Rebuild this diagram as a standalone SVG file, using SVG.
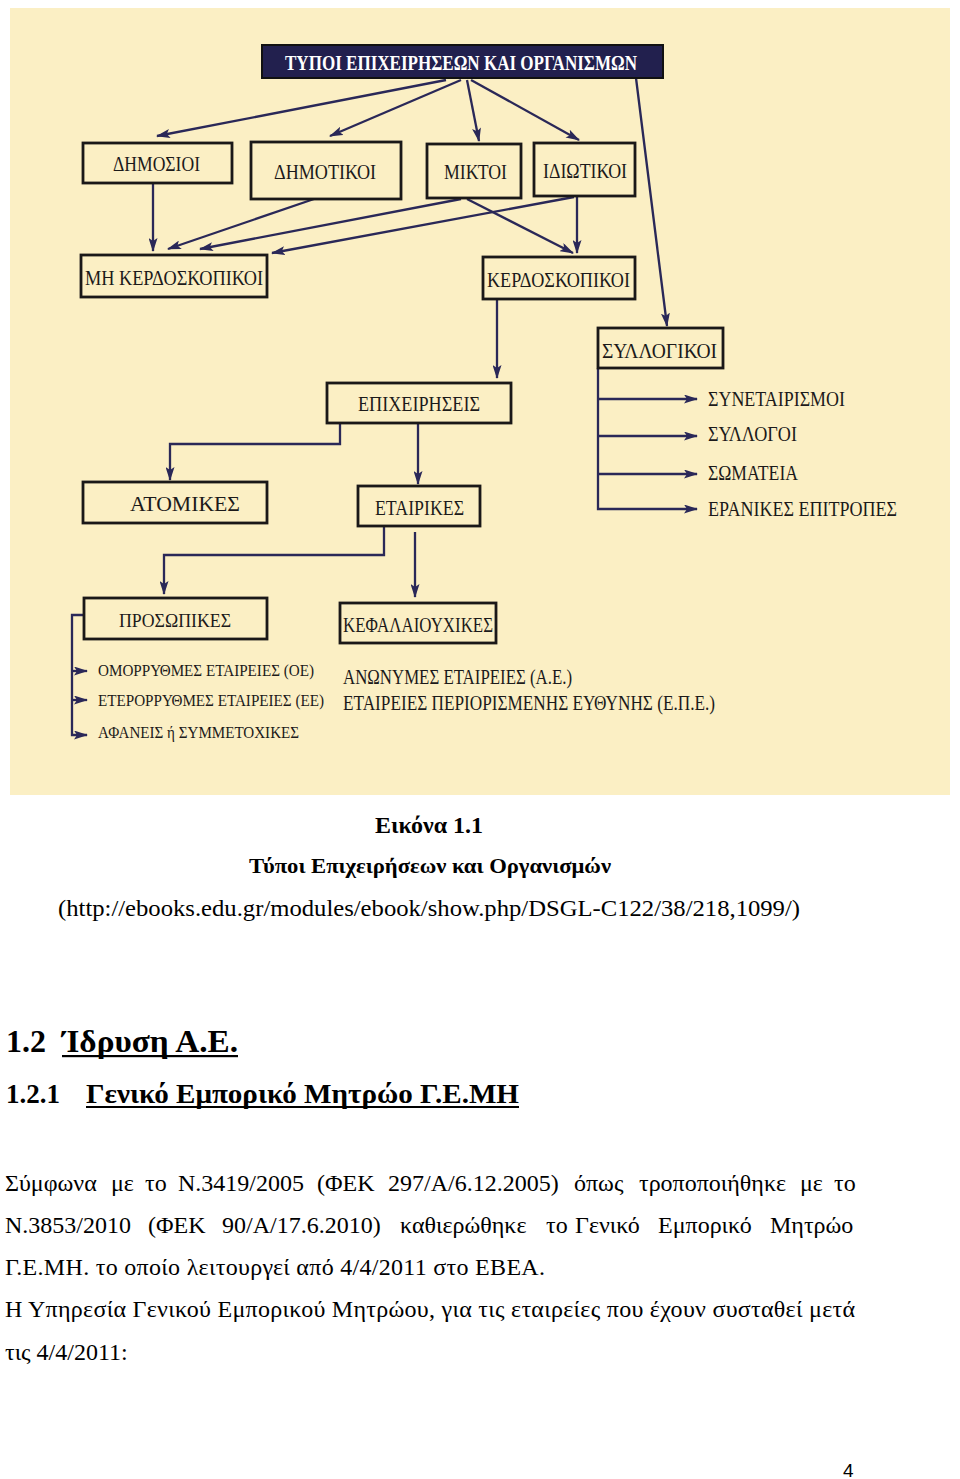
<svg xmlns="http://www.w3.org/2000/svg" width="960" height="1479" viewBox="0 0 960 1479">
<style>
.box{fill:#fbefc4;stroke:#1a1818;stroke-width:2.8}
.lbl{font-family:"Liberation Serif","Times New Roman",serif;fill:#1c1a1a}
.con{fill:none;stroke:#2a2858;stroke-width:2.3}
.arr{marker-end:url(#ah)}
.body{font-family:"Liberation Serif","Times New Roman",serif;fill:#000;font-size:24px}
.bold{font-weight:bold}
</style>
<defs>
<marker id="ah" viewBox="0 0 14 9" refX="13" refY="4.5" markerWidth="14" markerHeight="9" markerUnits="userSpaceOnUse" orient="auto">
<path d="M0,0 L14,4.5 L0,9 L3,4.5 z" fill="#2a2858"/>
</marker>
</defs>
<rect x="0" y="0" width="960" height="1479" fill="#ffffff"/>
<rect x="10" y="8" width="940" height="787" fill="#fbefc4"/>

<g id="connectors">
<line class="con arr" x1="446" y1="80" x2="157" y2="136"/>
<line class="con arr" x1="461" y1="80" x2="330" y2="136"/>
<line class="con arr" x1="467" y1="80" x2="479" y2="141"/>
<line class="con arr" x1="471" y1="80" x2="579" y2="140"/>
<line class="con arr" x1="636" y1="78" x2="667" y2="326"/>
<line class="con arr" x1="153" y1="183" x2="153" y2="251"/>
<line class="con arr" x1="314" y1="199" x2="168" y2="249"/>
<line class="con arr" x1="461" y1="199" x2="200" y2="249"/>
<line class="con arr" x1="574" y1="197" x2="272" y2="253"/>
<line class="con arr" x1="467" y1="199" x2="573" y2="253"/>
<line class="con arr" x1="577" y1="197" x2="577" y2="253"/>
<line class="con arr" x1="497" y1="300" x2="497" y2="378"/>
<polyline class="con arr" points="340,423 340,444 170,444 170,480"/>
<line class="con arr" x1="418" y1="423" x2="418" y2="484"/>
<polyline class="con arr" points="384,526 384,555 164,555 164,594"/>
<line class="con arr" x1="415" y1="532" x2="415" y2="597"/>
<line class="con arr" x1="597" y1="399" x2="697" y2="399"/>
<line class="con arr" x1="597" y1="436" x2="697" y2="436"/>
<line class="con arr" x1="597" y1="474" x2="697" y2="474"/>
<polyline class="con arr" points="598,368 598,509 697,509"/>
<polyline class="con arr" points="84,615 72,615 72,735 87,735"/>
<line class="con arr" x1="72" y1="671" x2="87" y2="671"/>
<line class="con arr" x1="72" y1="700" x2="87" y2="700"/>
</g>

<g id="title">
<rect x="262" y="45" width="401" height="33" fill="#22204e" stroke="#111" stroke-width="2"/>
<text x="285" y="70" font-family="Liberation Serif, Times New Roman, serif" font-weight="bold" font-size="21" fill="#ffffff" textLength="352" lengthAdjust="spacingAndGlyphs">ΤΥΠΟΙ ΕΠΙΧΕΙΡΗΣΕΩΝ ΚΑΙ ΟΡΓΑΝΙΣΜΩΝ</text>
</g>
<g id="dimosioi">
<rect class="box" x="83" y="143" width="149" height="40"/>
<text class="lbl" x="113" y="171" font-size="20" textLength="87" lengthAdjust="spacingAndGlyphs">ΔΗΜΟΣΙΟΙ</text>
</g>
<g id="dimotikoi">
<rect class="box" x="251" y="142" width="150" height="57"/>
<text class="lbl" x="274" y="179" font-size="20" textLength="102" lengthAdjust="spacingAndGlyphs">ΔΗΜΟΤΙΚΟΙ</text>
</g>
<g id="miktoi">
<rect class="box" x="427" y="144" width="94" height="54"/>
<text class="lbl" x="444" y="179" font-size="20" textLength="63" lengthAdjust="spacingAndGlyphs">ΜΙΚΤΟΙ</text>
</g>
<g id="idiotikoi">
<rect class="box" x="534" y="143" width="101" height="53"/>
<text class="lbl" x="543" y="178" font-size="20" textLength="84" lengthAdjust="spacingAndGlyphs">ΙΔΙΩΤΙΚΟΙ</text>
</g>
<g id="mi-kerdoskopikoi">
<rect class="box" x="81" y="255" width="186" height="42"/>
<text class="lbl" x="85" y="285" font-size="22" textLength="178" lengthAdjust="spacingAndGlyphs">ΜΗ ΚΕΡΔΟΣΚΟΠΙΚΟΙ</text>
</g>
<g id="kerdoskopikoi">
<rect class="box" x="483" y="257" width="152" height="42"/>
<text class="lbl" x="487" y="287" font-size="22" textLength="143" lengthAdjust="spacingAndGlyphs">ΚΕΡΔΟΣΚΟΠΙΚΟΙ</text>
</g>
<g id="syllogikoi">
<rect class="box" x="598" y="328" width="125" height="40"/>
<text class="lbl" x="602" y="358" font-size="22" textLength="115" lengthAdjust="spacingAndGlyphs">ΣΥΛΛΟΓΙΚΟΙ</text>
</g>
<g id="syllogikoi-items">
<text class="lbl" x="708" y="406" font-size="20" textLength="137" lengthAdjust="spacingAndGlyphs">ΣΥΝΕΤΑΙΡΙΣΜΟΙ</text>
<text class="lbl" x="708" y="441" font-size="20" textLength="89" lengthAdjust="spacingAndGlyphs">ΣΥΛΛΟΓΟΙ</text>
<text class="lbl" x="708" y="480" font-size="20" textLength="90" lengthAdjust="spacingAndGlyphs">ΣΩΜΑΤΕΙΑ</text>
<text class="lbl" x="708" y="516" font-size="20" textLength="189" lengthAdjust="spacingAndGlyphs">ΕΡΑΝΙΚΕΣ ΕΠΙΤΡΟΠΕΣ</text>
</g>
<g id="epixeiriseis">
<rect class="box" x="327" y="383" width="184" height="40"/>
<text class="lbl" x="358" y="411" font-size="20" textLength="122" lengthAdjust="spacingAndGlyphs">ΕΠΙΧΕΙΡΗΣΕΙΣ</text>
</g>
<g id="atomikes">
<rect class="box" x="83" y="482" width="184" height="41"/>
<text class="lbl" x="130" y="511" font-size="20" textLength="110" lengthAdjust="spacingAndGlyphs">ΑΤΟΜΙΚΕΣ</text>
</g>
<g id="etairikes">
<rect class="box" x="358" y="486" width="122" height="40"/>
<text class="lbl" x="375" y="515" font-size="21" textLength="89" lengthAdjust="spacingAndGlyphs">ΕΤΑΙΡΙΚΕΣ</text>
</g>
<g id="prosopikes">
<rect class="box" x="84" y="598" width="183" height="41"/>
<text class="lbl" x="119" y="627" font-size="19" textLength="112" lengthAdjust="spacingAndGlyphs">ΠΡΟΣΩΠΙΚΕΣ</text>
</g>
<g id="prosopikes-items">
<text class="lbl" x="98" y="676" font-size="17" textLength="216" lengthAdjust="spacingAndGlyphs">ΟΜΟΡΡΥΘΜΕΣ ΕΤΑΙΡΕΙΕΣ (ΟΕ)</text>
<text class="lbl" x="98" y="706" font-size="17" textLength="226" lengthAdjust="spacingAndGlyphs">ΕΤΕΡΟΡΡΥΘΜΕΣ ΕΤΑΙΡΕΙΕΣ (ΕΕ)</text>
<text class="lbl" x="98" y="738" font-size="17" textLength="201" lengthAdjust="spacingAndGlyphs">ΑΦΑΝΕΙΣ ή ΣΥΜΜΕΤΟΧΙΚΕΣ</text>
</g>
<g id="kefalaiouxikes">
<rect class="box" x="340" y="603" width="156" height="40"/>
<text class="lbl" x="343" y="632" font-size="21" textLength="150" lengthAdjust="spacingAndGlyphs">ΚΕΦΑΛΑΙΟΥΧΙΚΕΣ</text>
</g>
<g id="kefalaiouxikes-items">
<text class="lbl" x="343" y="684" font-size="20" textLength="229" lengthAdjust="spacingAndGlyphs">ΑΝΩΝΥΜΕΣ ΕΤΑΙΡΕΙΕΣ (Α.Ε.)</text>
<text class="lbl" x="343" y="710" font-size="20" textLength="372" lengthAdjust="spacingAndGlyphs">ΕΤΑΙΡΕΙΕΣ ΠΕΡΙΟΡΙΣΜΕΝΗΣ ΕΥΘΥΝΗΣ (Ε.Π.Ε.)</text>
</g>

<g id="caption">
<text class="body bold" x="375" y="833" textLength="108" lengthAdjust="spacingAndGlyphs">Εικόνα 1.1</text>
<text class="body bold" x="249" y="873" style="font-size:20px" textLength="362" lengthAdjust="spacingAndGlyphs">Τύποι Επιχειρήσεων και Οργανισμών</text>
<text class="body" x="58" y="916" textLength="742" lengthAdjust="spacingAndGlyphs">(http://ebooks.edu.gr/modules/ebook/show.php/DSGL-C122/38/218,1099/)</text>
</g>

<g id="headings">
<text class="body bold" x="6" y="1052" style="font-size:32px">1.2</text>
<text class="body bold" x="62" y="1052" style="font-size:32px" textLength="176" lengthAdjust="spacingAndGlyphs">Ίδρυση Α.Ε.</text>
<rect x="62" y="1055" width="176" height="2.2" fill="#000"/>
<text class="body bold" x="6" y="1103" style="font-size:27px">1.2.1</text>
<text class="body bold" x="86" y="1103" style="font-size:27px" textLength="433" lengthAdjust="spacingAndGlyphs">Γενικό Εμπορικό Μητρώο Γ.Ε.ΜΗ</text>
<rect x="86" y="1106" width="433" height="2" fill="#000"/>
</g>

<g id="paragraph">
<text class="body" y="1191"><tspan x="5">Σύμφωνα</tspan><tspan x="111">με</tspan><tspan x="145">το</tspan><tspan x="178">Ν.3419/2005</tspan><tspan x="317">(ΦΕΚ</tspan><tspan x="388">297/Α/6.12.2005)</tspan><tspan x="574">όπως</tspan><tspan x="639">τροποποιήθηκε</tspan><tspan x="800">με</tspan><tspan x="834">το</tspan></text>
<text class="body" y="1233"><tspan x="5">Ν.3853/2010</tspan><tspan x="148">(ΦΕΚ</tspan><tspan x="222">90/Α/17.6.2010)</tspan><tspan x="400">καθιερώθηκε</tspan><tspan x="546">το</tspan><tspan x="575">Γενικό</tspan><tspan x="658">Εμπορικό</tspan><tspan x="770">Μητρώο</tspan></text>
<text class="body" x="5" y="1275" textLength="540" lengthAdjust="spacing">Γ.Ε.ΜΗ. το οποίο λειτουργεί από 4/4/2011 στο ΕΒΕΑ.</text>
<text class="body" x="5" y="1317" textLength="850" lengthAdjust="spacing">Η Υπηρεσία Γενικού Εμπορικού Μητρώου, για τις εταιρείες που έχουν συσταθεί μετά</text>
<text class="body" x="5" y="1360">τις 4/4/2011:</text>
</g>
<text x="843" y="1477" font-family="Liberation Sans, Arial, sans-serif" font-size="19" fill="#000">4</text>
</svg>
